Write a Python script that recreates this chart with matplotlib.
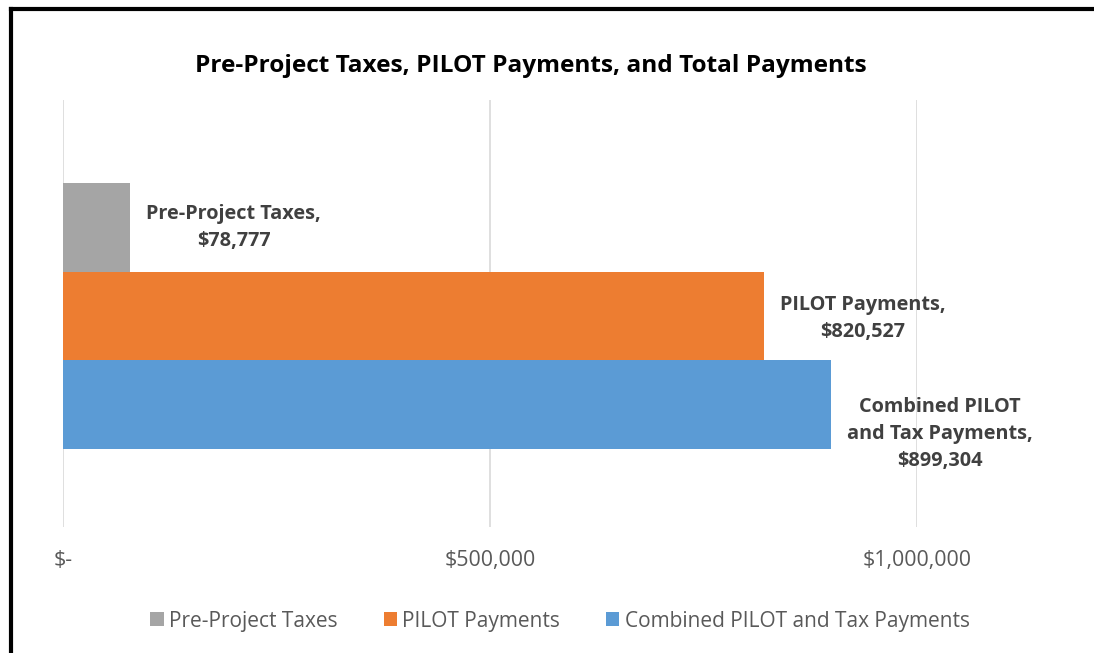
import matplotlib
matplotlib.use("Agg")
import matplotlib.pyplot as plt
from matplotlib.patches import Patch
from matplotlib.lines import Line2D

plt.rcParams['font.family'] = ['Open Sans', 'DejaVu Sans']

series = ["Pre-Project Taxes", "PILOT Payments", "Combined PILOT and Tax Payments"]
values = [78777, 820527, 899304]
colors = ["#A5A5A5", "#ED7D31", "#5B9BD5"]
label_texts = ["Pre-Project Taxes,\n$78,777",
               "PILOT Payments,\n$820,527",
               "Combined PILOT\nand Tax Payments,\n$899,304"]
ticks = [0, 500000, 1000000]
tick_labels = ["$-", "$500,000", "$1,000,000"]
title = "Pre-Project Taxes, PILOT Payments, and Total Payments"

W, H = 1094, 653
fig = plt.figure(figsize=(W / 100, H / 100), dpi=100)
ax = fig.add_axes([63 / W, 1 - 527 / H, (917 - 63) / W, (527 - 100) / H])

bar_h = 0.2077
shift = 0.006
offsets = [-bar_h + shift, shift, bar_h + shift]
label_dy = [0, -1.5, -21]
for s, v, c, off, txt, dy in zip(series, values, colors, offsets, label_texts, label_dy):
    ax.barh(off, v, height=bar_h, color=c, label=s, zorder=2)
    ax.annotate(txt, xy=(v, off), xytext=(11.5, dy), textcoords="offset points",
                ha="left", va="center", multialignment="center",
                fontsize=14.3, fontweight="bold", color="#404040", linespacing=1.45)

ax.set_ylim(0.5, -0.5)
ax.set_xlim(0, 1000000)
ax.set_xticks(ticks)
ax.set_xticklabels(tick_labels)
ax.tick_params(axis="x", length=0, pad=16.5, labelsize=15.4, labelcolor="#595959")
ax.set_yticks([])
ax.grid(axis="x", color="#D9D9D9", linewidth=1.2, zorder=0)
for sp in ax.spines.values():
    sp.set_visible(False)
ax.set_axisbelow(True)

fig.text(531 / W, 1 - 66 / H, title, ha="center", va="center",
         fontsize=17.6, fontweight="bold", color="#000000")

handles = [Patch(facecolor=c, edgecolor="none") for c in colors]
fig.legend(handles, series, loc="center", bbox_to_anchor=(560 / W, 1 - 621 / H),
           ncol=3, frameon=False, fontsize=15, labelcolor="#595959",
           handlelength=0.65, handleheight=0.65, handletextpad=0.25, columnspacing=2.2)

# partial chart border (left and top edges visible)
fig.add_artist(Line2D([10.5 / W, 10.5 / W], [0, 1 - 9 / H], transform=fig.transFigure,
                      color="black", linewidth=3, solid_capstyle="projecting"))
fig.add_artist(Line2D([10.5 / W, 1], [1 - 9 / H, 1 - 9 / H], transform=fig.transFigure,
                      color="black", linewidth=3, solid_capstyle="projecting"))

fig.savefig("out.png", dpi=100)
